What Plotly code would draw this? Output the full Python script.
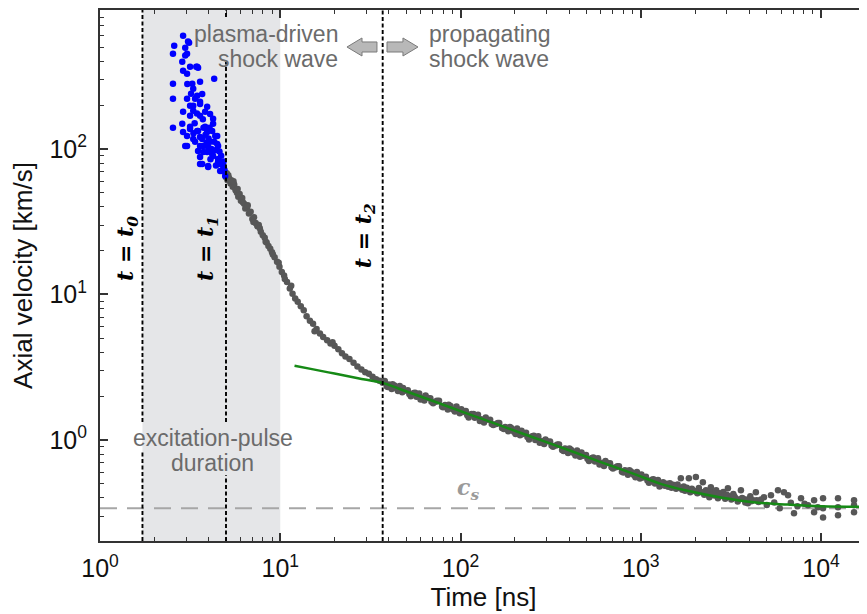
import plotly.graph_objects as go

# ---------------- data ----------------
# event times [ns]
t0_time = 1.72
t1_time = 5.0
t2_time = 37.0
pulse_end = 10.0
c_s = 0.34  # km/s

# blue points (plasma-driven phase)
blue_t = [2.89, 2.58, 2.97, 3.12, 2.54, 2.97, 2.86, 2.89, 3.16, 3.42, 3.04, 3.50, 4.30, 2.54, 3.25,
          3.59, 3.29, 3.69, 2.54, 3.04, 3.37, 3.16, 3.59, 2.89, 3.29, 3.83, 4.24, 2.86, 2.54, 3.16,
          3.50, 3.93, 2.89, 3.29, 3.69, 4.36, 3.04, 3.59, 3.98, 4.47, 3.74, 4.19, 3.59, 4.52, 3.98,
          4.64, 3.59, 4.76, 4.95, 3.08, 3.04, 3.46, 3.46, 3.59, 3.29, 3.93, 4.08, 3.16, 3.59, 4.24,
          3.16, 3.46, 3.83, 4.19, 3.04, 3.59, 4.47, 2.97, 3.37, 3.74, 4.08, 4.52, 3.50, 3.93, 4.24,
          3.69, 3.98, 4.52, 4.64, 4.82, 3.35, 3.72, 4.05, 3.85, 4.35, 4.10, 4.40, 4.70, 3.30, 3.90,
          4.60, 4.85, 3.20, 3.05, 3.75, 4.15, 4.90, 3.45, 4.00, 4.30]
blue_v = [601, 513, 497, 538, 452, 438, 398, 345, 368, 368, 329, 362, 304, 281, 281,
          290, 259, 239, 221, 221, 221, 198, 204, 180, 183, 180, 149, 149, 140, 137,
          133, 131, 131, 117, 117, 123, 105, 105, 103, 108, 95.3, 92.4, 88.1, 85.3, 76.3,
          78.8, 78.8, 70.5, 65.2, 547, 452, 368, 232, 211, 198, 195, 174, 169, 169, 161,
          142, 133, 142, 133, 123, 121, 123, 105, 112, 105, 112, 105, 96.8, 95.3, 89.5,
          78.8, 75.2, 81.3, 70.5, 76.3, 150, 160, 140, 125, 98, 85, 77, 90, 128, 110,
          96, 82, 240, 280, 140, 100, 72, 175, 118, 112]

# gray points: early decay
grayA_t = [4.9, 5.0, 5.05, 5.1, 5.2, 5.3, 5.35, 5.45, 5.55, 5.65, 5.75, 5.85, 5.95, 6.05, 6.15,
           6.3, 6.4, 6.55, 6.7, 6.85, 7.0, 7.15, 7.3, 7.45, 7.6, 7.8, 8.0, 8.2, 8.4, 8.6,
           8.8, 9.0, 9.3, 9.6, 9.9, 10.2, 10.5, 10.9, 11.3, 11.7, 12.1, 12.5, 13.0, 13.5, 14.0,
           14.6, 15.2, 15.9, 16.6, 17.3, 18.2, 19.0, 20.0, 21.0, 22.0, 23.0, 24.2, 25.5, 26.8, 28.2,
           29.6, 31.0, 32.5, 34.0, 35.5, 37.0]
grayA_v = [70, 64, 68, 61, 63, 58, 61, 55, 57, 52, 50, 47, 49, 44, 46,
           42, 39, 40, 36, 37, 33, 34, 31, 29.5, 30, 27, 25.5, 24.5, 22.8, 21.5,
           20.6, 19.5, 18, 16.8, 15.5, 14.3, 13.5, 12.2, 11.0, 10.1, 9.4, 8.9, 8.3, 7.8, 7.1,
           6.6, 6.3, 5.8, 5.4, 5.1, 4.85, 4.6, 4.45, 4.2, 3.95, 3.75, 3.6, 3.4, 3.2, 3.05,
           2.92, 2.85, 2.72, 2.62, 2.55, 2.47]

# gray points: propagating phase
grayB_t = [38, 39, 40, 41.5, 43, 44.5, 46, 47.5, 49, 51, 53, 55, 57, 59, 61,
           63, 65.5, 68, 70.5, 73, 76, 79, 82, 85, 88, 91, 95, 99, 103, 107,
           111, 115, 120, 125, 130, 135, 140, 146, 152, 158, 164, 170, 177, 184, 191,
           198, 206, 214, 222, 231, 240, 250, 260, 270, 280, 291, 302, 314, 326, 339,
           352, 366, 380, 395, 410, 426, 443, 460, 478, 497, 516, 536, 557, 579, 602,
           625, 650, 675, 701, 728, 757, 786, 817, 849, 882, 916, 952, 989, 1028, 1068,
           1110, 1153, 1198, 1245, 1294]
grayB_v = [2.54, 2.34, 2.41, 2.24, 2.37, 2.24, 2.35, 2.13, 2.18, 2.20, 2.00, 2.10, 1.98, 2.09, 1.95,
           1.87, 1.95, 1.94, 1.79, 1.83, 1.86, 1.70, 1.74, 1.62, 1.71, 1.62, 1.70, 1.53, 1.56, 1.58,
           1.43, 1.51, 1.42, 1.49, 1.39, 1.32, 1.38, 1.38, 1.27, 1.29, 1.31, 1.21, 1.23, 1.15, 1.21,
           1.14, 1.20, 1.08, 1.10, 1.12, 1.01, 1.06, 1.00, 1.06, 0.983, 0.937, 0.979, 0.977, 0.900, 0.917,
           0.933, 0.855, 0.875, 0.813, 0.858, 0.811, 0.848, 0.767, 0.781, 0.790, 0.717, 0.753, 0.711, 0.748, 0.697,
           0.664, 0.694, 0.692, 0.637, 0.649, 0.660, 0.605, 0.620, 0.576, 0.608, 0.574, 0.602, 0.543, 0.553, 0.560,
           0.508, 0.534, 0.503, 0.531, 0.494]
grayB2_t = [39.5, 42, 45, 48, 52, 56, 60, 64, 69, 74, 80, 86, 93, 101, 109,
            118, 128, 138, 149, 161, 174, 188, 202, 218, 235, 255, 275, 296, 320, 345,
            373, 402, 434, 469, 506, 546, 590, 637, 688, 742, 801, 865, 934, 1008, 1089,
            1175, 1270]
grayB2_v = [2.31, 2.42, 2.17, 2.28, 2.07, 2.11, 1.90, 2.02, 1.83, 1.86, 1.68, 1.75, 1.57, 1.63, 1.48,
            1.51, 1.35, 1.43, 1.29, 1.31, 1.19, 1.23, 1.10, 1.16, 1.05, 1.07, 0.956, 1.01, 0.917, 0.932,
            0.842, 0.874, 0.783, 0.820, 0.742, 0.757, 0.678, 0.717, 0.650, 0.659, 0.597, 0.619, 0.555, 0.580, 0.526,
            0.537, 0.480]

# gray points: late phase approaching the speed of sound
grayC_t = [1330, 1360, 1390, 1420, 1450, 1480, 1510, 1540, 1570, 1600, 1630, 1668, 1700, 1730, 1760,
           1800, 1848, 1880, 1920, 1960, 2021, 2060, 2100, 2150, 2210, 2250, 2300, 2350, 2400, 2447,
           2500, 2560, 2620, 2680, 2740, 2800, 2870, 2940, 3043, 3100, 3180, 3260, 3350, 3450, 3593,
           3700, 3800, 3930, 4050, 4200, 4350, 4500, 4823, 5000, 5275, 5500, 5770, 5900, 6227, 6560,
           6800, 7080, 7400, 7743, 8100, 8470, 9150, 9150, 9600, 10260, 10260, 10260, 12420, 12420, 12420,
           15240, 15240, 15240]
grayC_v = [0.512, 0.485, 0.500, 0.478, 0.505, 0.470, 0.492, 0.483, 0.462, 0.495, 0.470, 0.547, 0.455, 0.480, 0.448,
           0.470, 0.547, 0.438, 0.462, 0.450, 0.556, 0.430, 0.468, 0.440, 0.513, 0.420, 0.452, 0.430, 0.405, 0.474,
           0.438, 0.415, 0.452, 0.398, 0.430, 0.412, 0.440, 0.395, 0.467, 0.410, 0.390, 0.425, 0.400, 0.378, 0.452,
           0.395, 0.372, 0.368, 0.410, 0.385, 0.438, 0.375, 0.404, 0.358, 0.417, 0.372, 0.452, 0.340, 0.438, 0.417,
           0.370, 0.314, 0.350, 0.398, 0.365, 0.356, 0.386, 0.319, 0.345, 0.398, 0.294, 0.340, 0.398, 0.345, 0.304,
           0.386, 0.356, 0.319]

# additional gray points filling the band
grayX_t = [5.15, 5.5, 5.8, 6.2, 6.6, 7.1, 7.7, 8.3, 9.1, 9.8, 10.6, 11.5, 15.5, 19.5,
           1400, 1550, 1650, 1780, 1900, 2000, 2200, 2350, 2500, 2600, 2700, 2900, 3000, 3200,
           3300, 3500, 3650, 3900, 4100, 4400, 4650]
grayX_v = [66, 60, 53, 43, 41, 31.5, 28.5, 23, 18.8, 16.5, 12.8, 11.5, 5.6, 4.7,
           0.490, 0.475, 0.468, 0.455, 0.450, 0.445, 0.435, 0.445, 0.425, 0.430, 0.420, 0.415, 0.420, 0.405,
           0.410, 0.390, 0.400, 0.390, 0.380, 0.385, 0.390]

# green fit
fit_t = [12, 15, 20, 27, 37, 46, 65, 109, 160, 254, 400, 600, 900, 1290, 1820, 2780, 4240, 6560, 10000, 18000]
fit_v = [3.24, 3.07, 2.86, 2.66, 2.47, 2.24, 1.92, 1.52, 1.28, 1.04, 0.85, 0.705, 0.59, 0.50, 0.448, 0.403,
         0.373, 0.36, 0.351, 0.347]

# axis ticks
x_tick_vals = [1, 10, 100, 1000, 10000]
x_tick_text = ["10<sup>0</sup>", "10<sup>1</sup>", "10<sup>2</sup>", "10<sup>3</sup>", "10<sup>4</sup>"]
y_tick_vals = [1, 10, 100]
y_tick_text = ["10<sup>0</sup>", "10<sup>1</sup>", "10<sup>2</sup>"]
x_minor_vals = [m * 10 ** k for k in range(0, 5) for m in range(2, 10)]
y_minor_vals = [m * 10 ** k for k in range(-1, 3) for m in range(2, 10)]

# ---------------- figure ----------------
SANS = "Liberation Sans, Arial, Helvetica, sans-serif"
SERIF = "DejaVu Serif, serif"
AXC = "#333333"
TXT = "#6b6b6b"

gray_t = grayA_t + grayB_t + grayB2_t + grayC_t + grayX_t
gray_v = grayA_v + grayB_v + grayB2_v + grayC_v + grayX_v

fig = go.Figure()
fig.add_trace(go.Scatter(x=gray_t, y=gray_v, mode="markers",
                         marker=dict(color="#575757", size=6.5, line=dict(width=0)),
                         showlegend=False, hoverinfo="skip"))
fig.add_trace(go.Scatter(x=blue_t, y=blue_v, mode="markers",
                         marker=dict(color="#0000ff", size=6.5, line=dict(width=0)),
                         showlegend=False, hoverinfo="skip"))
fig.add_trace(go.Scatter(x=fit_t, y=fit_v, mode="lines",
                         line=dict(color="#168a16", width=2.5, shape="spline"),
                         showlegend=False, hoverinfo="skip"))

shapes = []
# excitation-pulse shading
shapes.append(dict(type="rect", xref="x", yref="paper", x0=t0_time, x1=pulse_end, y0=0, y1=1,
                   fillcolor="#e5e6e8", line=dict(width=0), layer="below"))
# speed of sound
shapes.append(dict(type="line", xref="paper", yref="y", x0=0, x1=1, y0=c_s, y1=c_s,
                   line=dict(color="#a6a6a6", width=2, dash="17px,10px"), layer="below"))
# vertical dashed lines (segments interrupted behind text)
vdash = dict(color="black", width=1.9, dash="4px,2.5px")
for xv, segs in [(t0_time, [(0, 0.168), (0.224, 1)]),
                 (t1_time, [(0, 0.124), (0.224, 0.902), (0.987, 1)]),
                 (t2_time, [(0, 1)])]:
    for (a, b) in segs:
        shapes.append(dict(type="line", xref="x", yref="paper", x0=xv, x1=xv, y0=a, y1=b,
                           line=vdash, layer="above"))
# arrows
arrow_fill = "#b8b8b8"
arrow_line = dict(color="#7a7a7a", width=1)
shapes.append(dict(type="path", xref="paper", yref="paper",
                   path="M 0.3220 0.9303 L 0.3416 0.9473 L 0.3416 0.9398 L 0.3611 0.9398 "
                        "L 0.3611 0.9209 L 0.3416 0.9209 L 0.3416 0.9134 Z",
                   fillcolor=arrow_fill, line=arrow_line))
shapes.append(dict(type="path", xref="paper", yref="paper",
                   path="M 0.4146 0.9303 L 0.3950 0.9473 L 0.3950 0.9398 L 0.3742 0.9398 "
                        "L 0.3742 0.9209 L 0.3950 0.9209 L 0.3950 0.9134 Z",
                   fillcolor=arrow_fill, line=arrow_line))


def label(text, x, y, xanchor="center", size=23, color=TXT, family=SANS, angle=0):
    return dict(text=text, xref="paper", yref="paper", x=x, y=y, xanchor=xanchor, yanchor="middle",
                showarrow=False, textangle=angle, font=dict(family=family, size=size, color=color))


annotations = [
    label("plasma-driven", 0.3129, 0.9548, "right"),
    label("shock wave", 0.3129, 0.9077, "right"),
    label("propagating", 0.4263, 0.9548, "left"),
    label("shock wave", 0.4263, 0.9077, "left"),
    label("excitation-pulse", 0.1473, 0.194),
    label("duration", 0.1473, 0.147),
    label("<b><i>t</i> = <i>t<sub>0</sub></i></b>", 0.0352, 0.552, size=22, color="black", family=SERIF, angle=-90),
    label("<b><i>t</i> = <i>t<sub>1</sub></i></b>", 0.1395, 0.552, size=22, color="black", family=SERIF, angle=-90),
    label("<b><i>t</i> = <i>t<sub>2</sub></i></b>", 0.3455, 0.576, size=22, color="black", family=SERIF, angle=-90),
    label("<b><i>c<sub>s</sub></i></b>", 0.4798, 0.098, size=22, color="#9a9a9a", family=SERIF),
]

# page body keeps an 8px margin, so the figure is sized to fill the rest of the window
fig.update_layout(
    width=859, height=606,
    margin=dict(l=92, r=0, t=2, b=73, autoexpand=False),
    paper_bgcolor="white", plot_bgcolor="white",
    shapes=shapes, annotations=annotations,
    xaxis=dict(type="log", range=[0, 4.255], tickmode="array", tickvals=x_tick_vals, ticktext=x_tick_text,
               ticks="inside", ticklen=8, tickwidth=1.5, tickcolor=AXC,
               showline=True, linewidth=2, linecolor=AXC, mirror="ticks",
               showgrid=False, zeroline=False,
               minor=dict(tickmode="array", tickvals=x_minor_vals, ticks="inside", ticklen=4,
                          tickwidth=1.2, tickcolor=AXC, showgrid=False),
               tickfont=dict(family=SANS, size=25, color="#111"),
               ticklabelstandoff=4,
               title=dict(text="Time [ns]", font=dict(family=SANS, size=26, color="#111"), standoff=0)),
    yaxis=dict(type="log", range=[-0.694, 2.955], tickmode="array", tickvals=y_tick_vals, ticktext=y_tick_text,
               ticks="inside", ticklen=8, tickwidth=1.5, tickcolor=AXC,
               showline=True, linewidth=2, linecolor=AXC, mirror=False,
               showgrid=False, zeroline=False,
               minor=dict(tickmode="array", tickvals=y_minor_vals, ticks="inside", ticklen=4,
                          tickwidth=1.2, tickcolor=AXC, showgrid=False),
               tickfont=dict(family=SANS, size=25, color="#111"),
               ticklabelstandoff=6,
               title=dict(text="Axial velocity [km/s]", font=dict(family=SANS, size=26, color="#111"),
                          standoff=12)),
)

fig.write_html("out.html")
